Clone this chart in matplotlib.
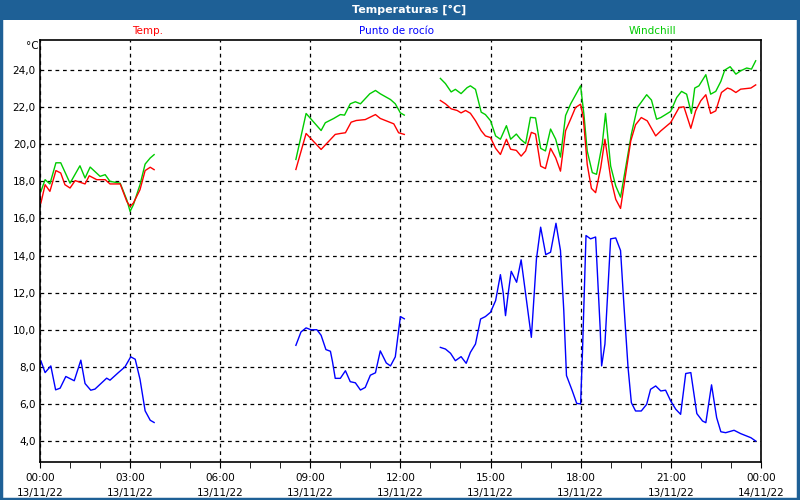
import numpy as np
import matplotlib.pyplot as plt
from matplotlib.patches import Rectangle

nan = np.nan

# hours since 13/11/22 00:00, NaN separates the gaps
temp_h = [0.03, 0.17, 0.33, 0.53, 0.69, 0.83, 1.0, 1.17, 1.5, 1.64, 1.89, 2.17, 2.33, 2.67,
          2.89, 3.0, 3.11, 3.33, 3.5, 3.67, 3.8, nan,
          8.52, 8.86, 9.36, 9.83, 10.0, 10.17, 10.36, 10.53, 10.83, 11.17, 11.33, 11.78,
          11.94, 12.13, nan,
          13.33, 13.5, 13.69, 13.89, 14.02, 14.17, 14.33, 14.5, 14.69, 14.83, 15.0, 15.17,
          15.33, 15.53, 15.67, 15.86, 16.02, 16.17, 16.36, 16.5, 16.67, 16.83, 17.0, 17.17,
          17.33, 17.5, 17.67, 17.83, 18.0, 18.09, 18.22, 18.36, 18.5, 18.67, 18.81, 19.0,
          19.17, 19.33, 19.5, 19.67, 19.83, 20.02, 20.22, 20.5, 20.67, 21.0, 21.28, 21.44,
          21.67, 21.83, 22.0, 22.17, 22.33, 22.5, 22.69, 22.89, 23.0, 23.17, 23.33, 23.67,
          23.83]
temp = [16.83, 17.82, 17.46, 18.58, 18.45, 17.82, 17.64, 18.04, 17.86, 18.3, 18.09, 18.09,
        17.86, 17.86, 16.92, 16.65, 16.83, 17.55, 18.58, 18.76, 18.63, nan,
        18.64, 20.58, 19.72, 20.53, 20.58, 20.62, 21.19, 21.28, 21.33, 21.6, 21.39, 21.1,
        20.62, 20.53, nan,
        22.36, 22.18, 21.91, 21.82, 21.69, 21.82, 21.67, 21.27, 20.73, 20.45, 20.36, 19.78,
        19.45, 20.27, 19.73, 19.67, 19.36, 19.64, 20.64, 20.55, 18.82, 18.69, 19.78, 19.27,
        18.55, 20.73, 21.36, 21.98, 22.16, 21.44, 18.92, 17.62, 17.39, 18.74, 20.27, 18.2,
        17.03, 16.54, 18.38, 20.18, 21.05, 21.44, 21.26, 20.45, 20.72, 21.17, 21.98, 22.02,
        20.86, 21.8, 22.34, 22.67, 21.66, 21.8, 22.79, 23.03, 22.97, 22.79, 22.97, 23.03,
        23.2]

wind_h = [0.03, 0.17, 0.33, 0.53, 0.69, 1.0, 1.33, 1.5, 1.67, 2.0, 2.17, 2.33, 2.67, 2.89,
          3.0, 3.11, 3.33, 3.5, 3.67, 3.8, nan,
          8.52, 8.86, 9.36, 9.5, 9.78, 10.0, 10.14, 10.33, 10.5, 10.67, 10.98, 11.17, 11.33,
          11.67, 11.83, 12.0, 12.13, nan,
          13.33, 13.5, 13.69, 13.83, 14.02, 14.22, 14.33, 14.5, 14.69, 14.83, 15.0, 15.17,
          15.33, 15.53, 15.67, 15.86, 16.0, 16.17, 16.33, 16.5, 16.67, 16.83, 17.0, 17.17,
          17.33, 17.5, 17.67, 18.0, 18.11, 18.22, 18.39, 18.53, 18.72, 18.83, 19.0, 19.17,
          19.33, 19.5, 19.69, 19.89, 20.2, 20.36, 20.53, 20.67, 21.0, 21.2, 21.36, 21.53,
          21.69, 21.8, 21.94, 22.17, 22.33, 22.5, 22.67, 22.8, 22.98, 23.17, 23.33, 23.53,
          23.69, 23.83]
wind = [17.46, 18.09, 17.86, 19.0, 19.0, 17.9, 18.84, 18.18, 18.77, 18.27, 18.36, 18.0,
        17.9, 17.0, 16.38, 16.74, 17.82, 18.93, 19.26, 19.44, nan,
        19.18, 21.66, 20.74, 21.16, 21.39, 21.6, 21.57, 22.18, 22.29, 22.18, 22.72, 22.9,
        22.72, 22.41, 22.18, 21.69, 21.57, nan,
        23.55, 23.27, 22.82, 22.96, 22.73, 23.05, 23.15, 22.96, 21.73, 21.6, 21.27, 20.45,
        20.27, 21.0, 20.27, 20.55, 20.27, 20.04, 21.45, 21.42, 19.78, 19.64, 20.82, 20.27,
        19.31, 21.55, 22.18, 23.15, 21.62, 19.64, 18.47, 18.38, 20.0, 21.66, 18.83, 17.75,
        17.15, 18.74, 20.54, 21.98, 22.67, 22.38, 21.35, 21.44, 21.77, 22.52, 22.85, 22.7,
        21.66, 23.03, 23.15, 23.75, 22.7, 22.85, 23.39, 24.0, 24.18, 23.78, 23.96, 24.11,
        24.05, 24.5]

dew_h = [0.03, 0.17, 0.36, 0.52, 0.67, 0.86, 1.14, 1.36, 1.5, 1.69, 1.83, 2.22, 2.33, 2.61,
         2.83, 3.02, 3.17, 3.33, 3.5, 3.67, 3.8, nan,
         8.52, 8.69, 8.86, 9.02, 9.22, 9.36, 9.52, 9.67, 9.74, 9.83, 10.0, 10.17, 10.33,
         10.5, 10.67, 10.83, 11.0, 11.17, 11.33, 11.53, 11.67, 11.83, 12.0, 12.13, nan,
         13.33, 13.5, 13.67, 13.83, 14.02, 14.19, 14.33, 14.5, 14.67, 14.83, 15.0, 15.17,
         15.33, 15.42, 15.5, 15.59, 15.69, 15.87, 16.02, 16.17, 16.36, 16.39, 16.53, 16.67,
         16.84, 17.0, 17.18, 17.33, 17.44, 17.53, 17.72, 17.87, 18.0, 18.06, 18.18, 18.33,
         18.5, 18.65, 18.7, 18.81, 19.0, 19.17, 19.33, 19.44, 19.58, 19.69, 19.83, 20.02,
         20.2, 20.33, 20.5, 20.67, 20.83, 21.0, 21.17, 21.33, 21.5, 21.67, 21.87, 22.06,
         22.17, 22.36, 22.53, 22.67, 22.83, 23.11, 23.33, 23.67, 23.83]
dew = [8.32, 7.69, 8.05, 6.76, 6.85, 7.48, 7.25, 8.36, 7.1, 6.74, 6.8, 7.39, 7.28, 7.69,
       8.0, 8.54, 8.41, 7.33, 5.63, 5.12, 5.0, nan,
       9.16, 9.88, 10.1, 10.0, 10.0, 9.7, 8.93, 8.84, 8.27, 7.38, 7.38, 7.79, 7.2, 7.14,
       6.75, 6.89, 7.55, 7.68, 8.86, 8.21, 8.05, 8.54, 10.71, 10.59, nan,
       9.05, 8.96, 8.73, 8.33, 8.55, 8.19, 8.78, 9.23, 10.58, 10.71, 10.94, 11.57, 12.97,
       12.02, 10.76, 11.97, 13.15, 12.56, 13.77, 11.93, 9.59, 10.31, 13.82, 15.53, 14.05,
       14.18, 15.74, 14.27, 11.03, 7.53, 6.72, 6.03, 6.0, 8.68, 15.08, 14.9, 15.0, 10.13,
       8.05, 9.23, 14.9, 14.95, 14.27, 11.39, 7.96, 6.07, 5.62, 5.62, 5.98, 6.79, 6.97,
       6.7, 6.74, 6.16, 5.71, 5.44, 7.64, 7.69, 5.48, 5.08, 4.99, 7.03, 5.26, 4.5, 4.45,
       4.58, 4.4, 4.18, 4.0]

x_ticks = [0, 3, 6, 9, 12, 15, 18, 21, 24]
x_labels = ['00:00\n13/11/22', '03:00\n13/11/22', '06:00\n13/11/22', '09:00\n13/11/22',
            '12:00\n13/11/22', '15:00\n13/11/22', '18:00\n13/11/22', '21:00\n13/11/22',
            '00:00\n14/11/22']
y_ticks = [4, 6, 8, 10, 12, 14, 16, 18, 20, 22, 24]


def main():
    plt.rcParams['font.family'] = ['DejaVu Sans']
    plt.rcParams['font.size'] = 7.5

    fig = plt.figure(figsize=(8, 5), dpi=100)
    fig.patch.set_facecolor('white')

    # title bar and frame
    bar = '#1e6096'
    fig.patches.append(Rectangle((0, 0.96), 1, 0.04, transform=fig.transFigure,
                                 facecolor=bar, edgecolor='none', zorder=0))
    fig.patches.append(Rectangle((0.001, 0.002), 0.997, 0.997, transform=fig.transFigure,
                                 facecolor='none', edgecolor=bar, linewidth=2.5, zorder=0))
    fig.text(0.512, 0.98, 'Temperaturas [°C]', color='white', fontweight='bold',
             ha='center', va='center', fontsize=8)

    fig.text(0.185, 0.937, 'Temp.', color='#ff0000', ha='center', va='center')
    fig.text(0.496, 0.937, 'Punto de rocío', color='#0000ff', ha='center', va='center')
    fig.text(0.815, 0.937, 'Windchill', color='#00cc00', ha='center', va='center')
    fig.text(0.04, 0.908, '°C', ha='center', va='center')

    ax = fig.add_axes([0.05, 0.076, 0.901, 0.844])
    ax.plot(dew_h, dew, color='#0000ff', linewidth=1)
    ax.plot(wind_h, wind, color='#00cc00', linewidth=1)
    ax.plot(temp_h, temp, color='#ff0000', linewidth=1)

    ax.set_xlim(0, 24)
    ax.set_ylim(2.87, 25.62)
    ax.set_xticks(x_ticks)
    ax.set_xticklabels(x_labels, linespacing=1.6)
    ax.set_xticks(range(25), minor=True)
    ax.set_yticks(y_ticks)
    ax.set_yticklabels(['%.1f' % v for v in y_ticks])
    ax.set_yticklabels([('%.1f' % v).replace('.', ',') for v in y_ticks])
    ax.tick_params(axis='y', length=0, pad=3)
    ax.tick_params(axis='x', which='both', direction='out', length=4, pad=4)
    ax.grid(True, color='black', linestyle=(0, (3, 3)), linewidth=0.9)
    for s in ax.spines.values():
        s.set_linewidth(1.2)

    fig.savefig('out.png', dpi=100)


if __name__ == '__main__':
    main()
